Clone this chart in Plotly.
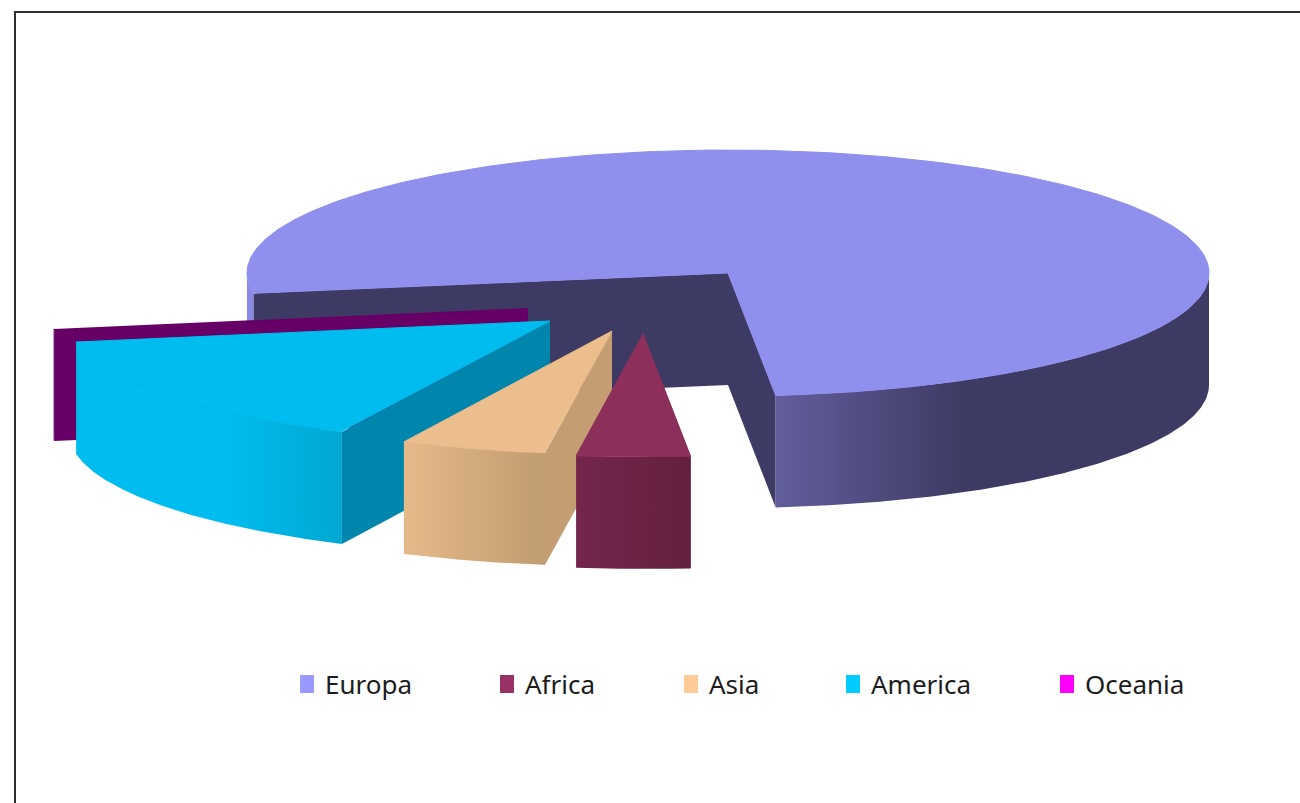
import numpy as np
import plotly.graph_objects as go

# ---- data (share of total, %) ----
categories = ["Europa", "Africa", "Asia", "America", "Oceania"]
shares = [76.06, 3.8, 4.9, 15.14, 0.1]

# ---- styles ----
legend_colors = ["#9999ff", "#993366", "#ffcc99", "#00ccff", "#ff00ff"]
top_colors = ["#8f8fee", "#8c2f5b", "#ecbd8d", "#00bcef", "#ee00ee"]
face_colors = ["#3d3a63", "#6b2144", "#c49e72", "#0085ad", "#660066"]
rim_gradients = [
    ((776, "#625e9c"), (965, "#3d3a63")),
    ((577, "#74254c"), (691, "#632040")),
    ((403, "#e6b98a"), (545, "#c19c71")),
    ((230, "#00bcef"), (342, "#00a8d2")),
    ((52, "#660066"), (75, "#660066")),
]
legend_left = [300, 500, 684, 846, 1060]

# ---- 3-D projection of the pie (pixels on the hidden axes) ----
centers = [(728, 273), (643, 334), (612, 331), (550, 321), (528, 308)]
RX, RY, DEPTH = 481, 123, 112
START_ANGLE = 170.5  # degrees, clockwise from east


def arc(center, a0, a1, n=160):
    t = np.radians(np.linspace(a0, a1, n))
    return center[0] + RX * np.cos(t), center[1] + RY * np.sin(t)


def edge(center, a):
    t = np.radians(a)
    return center[0] + RX * np.cos(t), center[1] + RY * np.sin(t)


def add_poly(fig, xs, ys, color=None, gradient=None, outline=False):
    kw = dict(fillcolor=color)
    if gradient is not None:
        (x0, c0), (x1, c1) = gradient
        kw = dict(fillgradient=dict(type="horizontal", start=x0, stop=x1,
                                    colorscale=[[0, c0], [1, c1]]))
    line = dict(width=1, color=color) if outline else dict(width=0)
    fig.add_trace(go.Scatter(x=list(xs), y=list(ys), mode="lines", fill="toself",
                             line=line, showlegend=False, hoverinfo="skip", **kw))


fig = go.Figure()

a = START_ANGLE
spans = []
for s in shares:
    spans.append((a, a + s * 3.6))
    a += s * 3.6

# Draw back to front: Europa, Oceania, America, Asia, Africa
for i in [0, 4, 3, 2, 1]:
    c = centers[i]
    a0, a1 = spans[i]
    if i == 0:
        # sliver of Europa's wall seen at the far left
        bx, by = arc(c, a0, 180, 30)
        add_poly(fig, np.r_[bx, bx[::-1], bx[0]], np.r_[by, by[::-1] + DEPTH, by[0]],
                 "#8a8ae6")
    # cut faces that look towards the viewer
    for ang in (a0, a1):
        ex, ey = edge(c, ang)
        if i == 0 or ang == a0:
            add_poly(fig, [c[0], ex, ex, c[0], c[0]],
                     [c[1], ey, ey + DEPTH, c[1] + DEPTH, c[1]], face_colors[i])
    # front rim: only the part of the arc facing the viewer (0..180 deg)
    if i == 0:
        rx, ry = arc(c, 360, a1)
    else:
        rx, ry = arc(c, a0 % 360, a1 % 360)
    add_poly(fig, np.r_[rx, rx[::-1], rx[0]], np.r_[ry, ry[::-1] + DEPTH, ry[0]],
             gradient=rim_gradients[i])
    # top face
    tx, ty = arc(c, a0, a1, 400)
    add_poly(fig, np.r_[c[0], tx, c[0]], np.r_[c[1], ty, c[1]], top_colors[i],
             outline=i != 4)

# Real legend entries, one positioned legend each
for i, name in enumerate(categories):
    key = "legend" if i == 0 else f"legend{i + 1}"
    fig.add_trace(go.Scatter(
        x=[None], y=[None], mode="markers", name=name, legend=key, showlegend=True,
        marker=dict(symbol="square", size=16, color=legend_colors[i],
                    line=dict(width=2, color=legend_colors[i])),
    ))
    fig.update_layout({key: dict(
        x=legend_left[i] / 1300, xanchor="left", y=1 - 684 / 803, yanchor="middle",
        bgcolor="rgba(0,0,0,0)", borderwidth=0, itemwidth=30, indentation=-15,
        itemclick=False, itemdoubleclick=False,
        font=dict(family="Noto Sans", size=26, color="#1c1c1c"),
    )})

fig.update_layout(
    width=1300, height=803, autosize=False,
    margin=dict(l=0, r=0, t=0, b=0),
    paper_bgcolor="white", plot_bgcolor="white",
    xaxis=dict(range=[0, 1300], visible=False, fixedrange=True),
    yaxis=dict(range=[803, 0], visible=False, fixedrange=True),
    shapes=[dict(type="rect", xref="x", yref="y", x0=15, y0=12, x1=1340, y1=840,
                 line=dict(color="#2f2f2f", width=2), layer="below")],
)

fig.write_html("out.html", config={"displayModeBar": False},
               post_script="document.body.style.margin='0';document.body.style.overflow='hidden';")
